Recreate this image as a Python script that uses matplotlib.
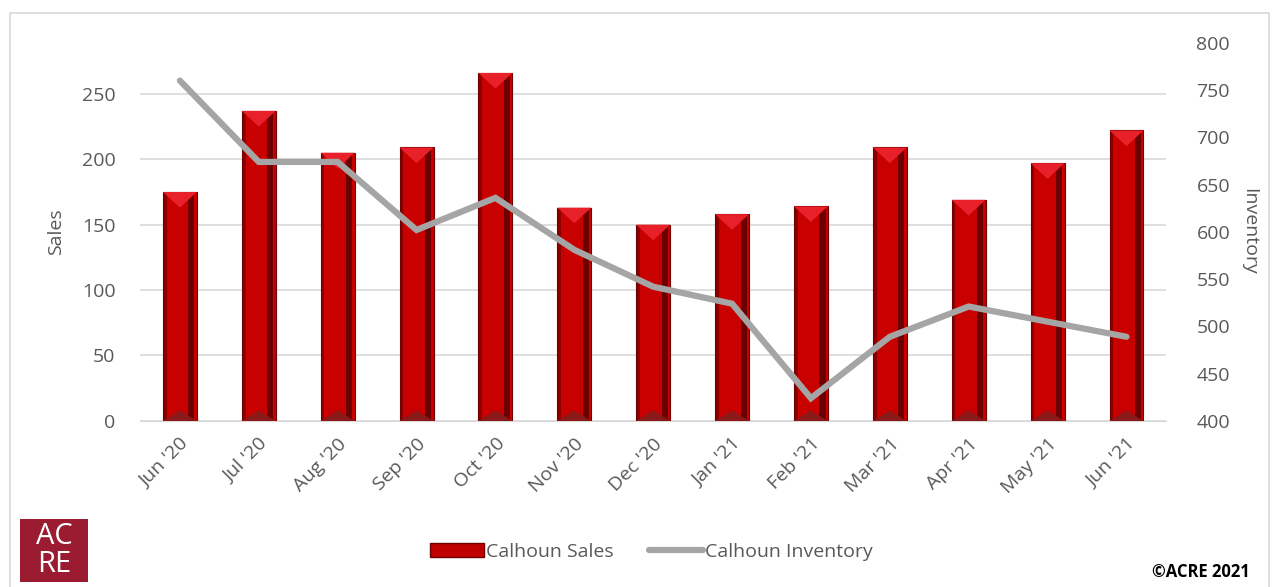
import numpy as np
import matplotlib.pyplot as plt
from matplotlib.patches import Rectangle
from matplotlib.lines import Line2D

months = ["Jun '20", "Jul '20", "Aug '20", "Sep '20", "Oct '20", "Nov '20", "Dec '20",
          "Jan '21", "Feb '21", "Mar '21", "Apr '21", "May '21", "Jun '21"]
sales = [175, 237, 205, 209, 266, 163, 150, 158, 164, 209, 169, 197, 222]
inventory = [760, 674, 674, 602, 636, 581, 542, 524, 424, 489, 521, 505, 489]

plt.rcParams['font.family'] = ['Open Sans', 'DejaVu Sans']
txt = '#595959'

fig = plt.figure(figsize=(12.77, 5.87), dpi=100)
ax = fig.add_axes([0.110, 0.283, 0.803, 0.644])
ax2 = ax.twinx()

x = np.arange(len(months))
w = 0.43

# bars with a bevel-ish look
ax.bar(x, sales, width=w, color='#c80000', edgecolor='#6e0000', linewidth=0.8, zorder=2)
ax.bar(x + w * 0.34, sales, width=w * 0.18, color='#6a0000', linewidth=0, zorder=3)
ax.bar(x - w * 0.43, sales, width=w * 0.08, color='#8a0000', linewidth=0, zorder=3)
for xi, s in zip(x, sales):
    ax.fill([xi - w / 2, xi + w / 2, xi], [s, s, s - 12], color='#e8202a', zorder=4, lw=0)
    ax.fill([xi - w / 2, xi + w / 2, xi], [0, 0, 8], color='#8a1a1a', zorder=4, lw=0)

ax.set_xlim(-0.5, len(months) - 0.5)
ax.set_ylim(0, 289)
ax.set_yticks([0, 50, 100, 150, 200, 250])
ax.yaxis.grid(True, color='#d9d9d9', linewidth=1.2, zorder=0)
ax.set_axisbelow(True)

ax2.plot(x, inventory, color='#a5a5a5', linewidth=4.5, solid_capstyle='round',
         solid_joinstyle='miter', zorder=5)
ax2.set_ylim(400, 800)
ax2.set_yticks(range(400, 801, 50))
ax.set_zorder(1)
ax2.set_zorder(2)
ax2.patch.set_visible(False)

for a in (ax, ax2):
    for sp in a.spines.values():
        sp.set_visible(False)
    a.tick_params(length=0, labelsize=14, labelcolor=txt)
ax.spines['bottom'].set_visible(True)
ax.spines['bottom'].set_color('#d9d9d9')
ax.tick_params(axis='y', pad=18)
ax2.tick_params(axis='y', pad=22)

ax.set_xticks(x)
ax.set_xticklabels(months, rotation=45, ha='right', rotation_mode='anchor')
ax.tick_params(axis='x', pad=10)

ax.set_ylabel('Sales', fontsize=14, color=txt, labelpad=12)
ax2.set_ylabel('Inventory', fontsize=14, color=txt, rotation=270, labelpad=20)

handles = [Rectangle((0, 0), 1, 1, facecolor='#c00000', edgecolor='#6e0000'),
           Line2D([0], [0], color='#a5a5a5', linewidth=4.5, solid_capstyle='round')]
fig.legend(handles, ['Calhoun Sales', 'Calhoun Inventory'], loc='center',
           bbox_to_anchor=(0.51, 0.06), ncol=2, frameon=False, fontsize=14,
           labelcolor=txt, handlelength=2.8, handletextpad=0.1, columnspacing=1.8)

# outer border
fig.patches.append(Rectangle((0.008, -0.02), 0.986, 0.998, transform=fig.transFigure,
                             fill=False, edgecolor='#d9d9d9', linewidth=1.2))

# logo
fig.patches.append(Rectangle((20 / 1277, 5 / 587), 68 / 1277, 63 / 587, transform=fig.transFigure,
                             facecolor='#9b1c31', edgecolor='none'))
fig.text(54 / 1277, 37 / 587 + 13 / 587, 'AC', color='white', fontsize=21, ha='center', va='center')
fig.text(54 / 1277, 37 / 587 - 15 / 587, 'RE', color='white', fontsize=21, ha='center', va='center')

fig.text(1250 / 1277, 15 / 587, '©ACRE 2021', fontsize=12, fontweight='bold', color='black',
         ha='right', va='center')

fig.savefig('out.png', dpi=100)
